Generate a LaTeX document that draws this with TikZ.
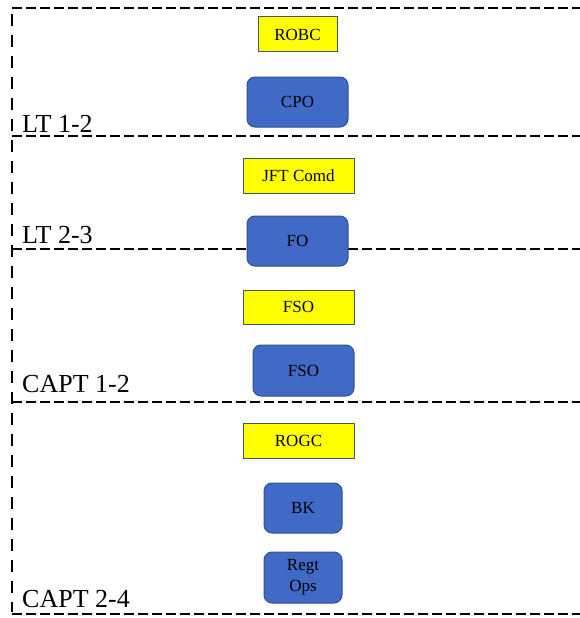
\documentclass[tikz,border=0pt]{standalone}
\usepackage{fontspec}
\setmainfont{Liberation Serif}
\definecolor{ybfill}{HTML}{FFFF00}
\definecolor{ybdraw}{HTML}{44546A}
\definecolor{bbfill}{HTML}{4169C6}
\definecolor{bbdraw}{HTML}{2F528F}
\tikzset{
  sectline/.style={line width=2.8pt, dash pattern=on 9.5pt off 4.5pt},
  sideline/.style={line width=2.8pt, dash pattern=on 12pt off 9pt},
  ybox/.style={rectangle, draw=ybdraw, fill=ybfill, line width=1pt, inner sep=0pt, font=\fontsize{17}{20}\selectfont},
  bbox/.style={rectangle, rounded corners=8pt, draw=bbdraw, fill=bbfill, line width=1pt, inner sep=0pt, align=center, font=\fontsize{17}{21}\selectfont},
  lvl/.style={anchor=base west, inner sep=0pt, font=\fontsize{26}{30}\selectfont}
}
\begin{document}
\begin{tikzpicture}[x=1pt,y=-1pt]
\useasboundingbox (0,0) rectangle (579,618);
% section lines
\coordinate (t0l) at (12,8);   \coordinate (t0r) at (585,8);
\coordinate (t1l) at (12,136); \coordinate (t1r) at (585,136);
\coordinate (t2l) at (12,249); \coordinate (t2r) at (585,249);
\coordinate (t3l) at (12,402); \coordinate (t3r) at (585,402);
\coordinate (t4l) at (12,614); \coordinate (t4r) at (585,614);
\coordinate (vtop) at (12,14); \coordinate (vbot) at (12,612);
\draw[sectline] (t0l) -- (t0r);
\draw[sectline] (t1l) -- (t1r);
\draw[sectline] (t2l) -- (t2r);
\draw[sectline] (t3l) -- (t3r);
\draw[sectline] (t4l) -- (t4r);
\draw[sideline] (vtop) -- (vbot);
% labels
\node[lvl] (l1) at (22,132) {LT 1-2};
\node[lvl] (l2) at (22,243) {LT 2-3};
\node[lvl] (l3) at (22,392) {CAPT 1-2};
\node[lvl] (l4) at (22,607) {CAPT 2-4};
% boxes
\node[ybox, minimum width=79pt, minimum height=35pt] (robc) at (297.5,34.5) {ROBC};
\node[bbox, minimum width=101pt, minimum height=50pt] (cpo) at (297.5,102) {CPO};
\node[ybox, minimum width=111pt, minimum height=35pt] (jft) at (298.5,175.5) {JFT Comd};
\node[bbox, minimum width=101pt, minimum height=50pt] (fo) at (297.5,241) {FO};
\node[ybox, minimum width=111pt, minimum height=34pt] (fsoy) at (298.5,307) {FSO};
\node[bbox, minimum width=101pt, minimum height=51pt] (fsob) at (303.5,370.5) {FSO};
\node[ybox, minimum width=111pt, minimum height=35pt] (rogc) at (298.5,440.5) {ROGC};
\node[bbox, minimum width=78pt, minimum height=50pt] (bk) at (303,508) {BK};
\node[bbox, minimum width=78pt, minimum height=51pt] (regt) at (303,577.5) {Regt\\Ops};
\end{tikzpicture}
\end{document}
